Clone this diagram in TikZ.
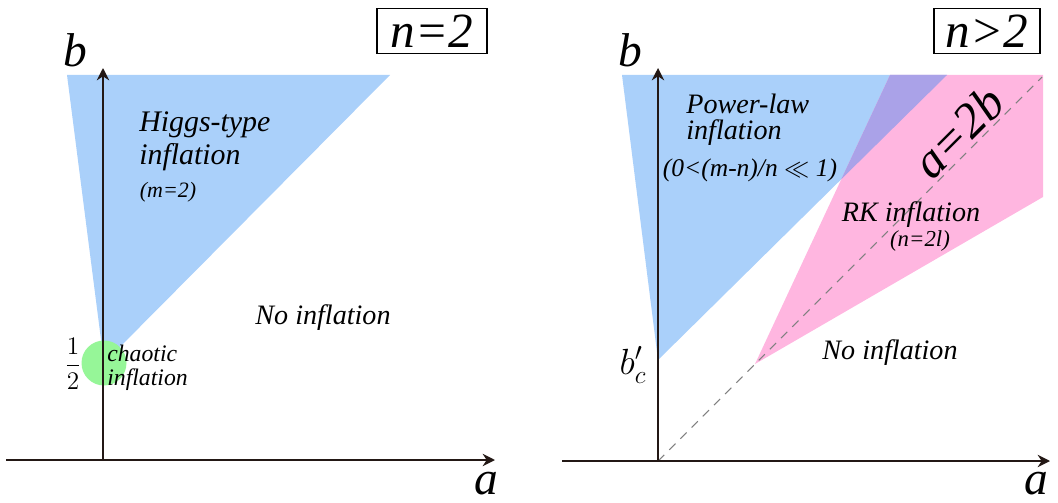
\documentclass[tikz,border=0pt]{standalone}
\usepackage{amsmath,amssymb}
\usepackage{fontspec}
\setmainfont{Liberation Serif}
\usetikzlibrary{arrows.meta,positioning}
\definecolor{axisdark}{RGB}{35,24,21}
\definecolor{regblue}{RGB}{170,208,250}
\definecolor{regpink}{RGB}{255,182,224}
\definecolor{reglav}{RGB}{170,162,232}
\definecolor{reggreen}{RGB}{150,246,152}

\begin{document}
\begin{tikzpicture}[x=0.02cm, y=-0.02cm,
    >={Stealth[length=7pt,width=7pt]},
    axis/.style={->, draw=axisdark, line width=1.4pt},
    region/.style={fill=#1, draw=none},
    txt/.style={font=\fontsize{16}{18.7}\selectfont\itshape, align=left, inner sep=0pt},
    smalltxt/.style={font=\fontsize{12.5}{14}\selectfont\itshape, inner sep=0pt},
    axlabel/.style={font=\fontsize{27}{29}\selectfont\itshape, inner sep=0pt, anchor=base},
    casebox/.style={draw, line width=0.7pt, font=\fontsize{28}{30}\selectfont\itshape, minimum height=0.88cm, inner xsep=4pt}
]
    \useasboundingbox (0,0) rectangle (1058,503);

    % left panel: n=2
    \coordinate (Lo) at (103,460);
    \coordinate (Lxs) at (6,460);
    \coordinate (Lxe) at (495,460);
    \coordinate (Lye) at (103,68);
    \coordinate (Lapex) at (104,363);

    \fill[region=regblue] (67,75) -- (390,75) -- (Lapex) -- cycle;
    \fill[reggreen] (Lapex) circle (22.5);
    \draw[axis] (Lxs) -- (Lxe);
    \draw[axis] (Lo) -- (Lye);

    \node[axlabel] (La) at (486,494) {a};
    \node[axlabel] (Lb) at (75,67) {b};
    \node[casebox, minimum width=2.2cm] (Lcase) at (432,31) {n=2};

    \node[txt, anchor=west, font=\fontsize{17}{18.7}\selectfont\itshape] (higgs) at (139,141) {Higgs-type\\inflation};
    \node[smalltxt] (higgsm) at (168,192) {(m=2)};
    \node[txt] (Lnoinf) at (323,318) {No inflation};
    \node[txt, anchor=west, font=\fontsize{13.5}{13.5}\selectfont\itshape] (chaotic) at (107,368) {chaotic\\inflation};
    \node[inner sep=0pt, font=\fontsize{15}{17}\selectfont] (half) at (73,364) {$\dfrac{1}{2}$};

    % right panel: n>2
    \coordinate (Ro) at (658,461);
    \coordinate (Rxs) at (562,461);
    \coordinate (Rxe) at (1050,461);
    \coordinate (Rye) at (658,68);
    \coordinate (Rd) at (1042,77);
    \coordinate (B1) at (622,75);
    \coordinate (B2) at (947,75);
    \coordinate (B3) at (658,360);
    \coordinate (P1) at (755,364);
    \coordinate (P2) at (890,75);
    \coordinate (P3) at (1043,75);
    \coordinate (P4) at (1043,197);
    \coordinate (X) at (intersection of B2--B3 and P1--P2);

    \fill[region=regblue] (B1) -- (B2) -- (B3) -- cycle;
    \fill[region=regpink] (P1) -- (P2) -- (P3) -- (P4) -- cycle;
    \fill[region=reglav] (P2) -- (B2) -- (X) -- cycle;
    \draw[gray, line width=0.6pt, dash pattern=on 5pt off 4pt] (Ro) -- (Rd);
    \draw[axis] (Rxs) -- (Rxe);
    \draw[axis] (Ro) -- (Rye);

    \node[axlabel] (Ra) at (1036,494) {a};
    \node[axlabel] (Rb) at (630,67) {b};
    \node[casebox, minimum width=2.12cm] (Rcase) at (987,31) {n>2};

    \node[txt, anchor=west, font=\fontsize{16}{14.7}\selectfont\itshape] (power) at (686,120) {Power-law\\inflation};
    \node[txt, font=\fontsize{14.5}{16}\selectfont\itshape] (powercond) at (750,170) {(0<(m-n)/n $\ll$ 1)};
    \node[txt] (rk) at (911,215) {RK inflation};
    \node[smalltxt, font=\fontsize{13}{14}\selectfont\itshape] (rkn) at (920,241) {(n=2l)};
    \node[txt] (Rnoinf) at (890,353) {No inflation};
    \node[inner sep=0pt, font=\fontsize{22}{24}\selectfont] (bc) at (633,365) {$b'_c$};
    \node[inner sep=0pt, rotate=45, font=\fontsize{28}{30}\selectfont\itshape] (diag) at (958,132) {a=2b};
\end{tikzpicture}
\end{document}
